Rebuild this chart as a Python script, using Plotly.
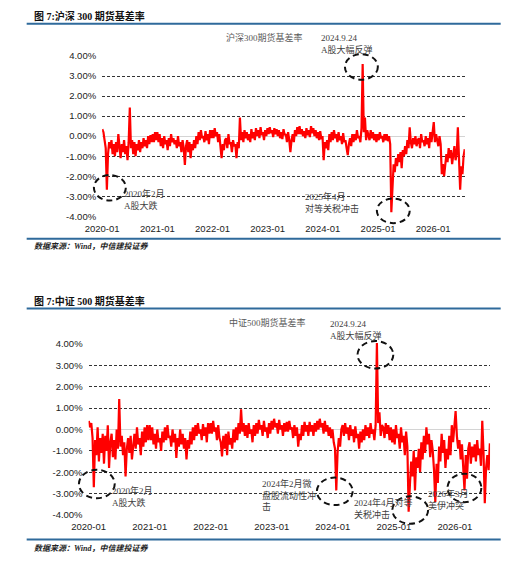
import pandas as pd
import plotly.graph_objects as go

# ---------------- data (basis rate, %) : 4 readings per month ----------------
hs300_2020 = [0.35, 0.2, -0.2, -0.6, -2.68, -0.9, -0.3, -0.6, -0.2, -0.9, -0.4, -1.0,
              -0.3, -0.8, 0.1, -0.6, -1.1, -0.4, -0.8, -0.2, -0.9, -0.5, -1.2, -0.3,
              1.43, -0.6, -0.2, -0.9, -0.3, -1.0, -0.4, -0.7, -0.2, -0.8, -0.3, -0.6,
              -0.1, -0.5, -0.2, -0.6, 0.0, -0.4, 0.05, -0.3, 0.1, -0.3, 0.2, -0.2]
hs300_2021 = [0.2, -0.3, 0.1, -0.5, -0.1, -0.6, 0.0, -0.4, -0.2, -0.7, -0.1, -0.5,
              0.1, -0.3, -0.1, -0.4, -0.2, -0.6, 0.0, -0.5, -0.3, -0.8, -0.2, -0.6,
              -1.44, -0.5, -0.2, -0.8, -0.3, -1.1, -0.4, -0.7, -0.2, -0.6, 0.0, -0.4,
              0.2, -0.2, 0.3, -0.1, 0.0, -0.3, 0.25, -0.2, 0.1, -0.4, 0.3, -0.1]
hs300_2022 = [0.3, -0.1, 0.4, 0.0, 0.2, -0.3, 0.1, -0.5, -1.1, -0.4, -0.7, -0.2,
              -0.1, -0.6, 0.1, -0.4, -0.3, -0.8, -0.2, -0.5, -0.4, -1.1, -0.3, -0.6,
              0.93, -0.2, 0.2, -0.3, 0.3, -0.1, 0.2, -0.2, 0.1, -0.3, 0.35, -0.1,
              0.2, -0.2, 0.4, 0.0, 0.3, -0.1, 0.45, 0.05, 0.2, -0.2, 0.3, 0.0]
hs300_2023 = [0.4, 0.1, 0.45, 0.15, 0.3, -0.05, 0.4, 0.1, 0.35, 0.0, 0.3, -0.1,
              0.2, -0.15, 0.35, 0.05, 0.1, -0.3, 0.2, -0.2, -0.8, -0.2, 0.1, -0.3,
              0.3, 0.0, 0.45, 0.1, 0.5, 0.1, 0.35, 0.0, 0.25, -0.1, 0.4, 0.05,
              0.3, -0.05, 0.5, 0.15, 0.4, 0.0, 0.3, -0.1, 0.2, -0.2, 0.25, -0.15]
hs300_2024 = [0.0, -1.2, -0.3, -0.6, -0.2, -0.7, 0.1, -0.3, 0.2, -0.2, 0.3, -0.1,
              0.1, -0.3, 0.2, -0.2, 0.0, -0.4, 0.15, -0.3, -0.2, -0.6, -0.95, -0.4,
              -0.1, -0.5, 0.1, -0.3, 0.1, -0.2, 0.3, -0.1, 0.0, -0.3, 0.4, 3.6,
              0.2, 0.93, -0.2, 0.3, 0.1, -0.2, 0.3, -0.1, 0.2, -0.2, 0.1, -0.3]
hs300_2025 = [0.1, -0.2, 0.2, -0.1, 0.0, -0.3, 0.1, -0.2, 0.1, -0.25, 0.0, -0.4,
              -3.8, -2.2, -1.4, -1.8, -1.1, -1.5, -0.9, -1.3, -0.8, -1.6, -0.7, -1.0,
              -0.5, -0.9, -0.2, -0.6, 0.44, -0.3, -0.6, -0.1, -0.4, 0.0, -0.5, -0.2,
              -0.1, -0.6, 0.1, -0.3, -0.2, -0.5, 0.0, -0.4, -0.1, -0.6, 0.2, -0.3]
hs300_2026 = [0.2, 0.7, -0.3, 0.1, -0.2, -0.5, 0.0, -0.4, -1.9, -1.4, -2.0, -1.3,
              -0.9, -1.3, -0.6, -1.1, -0.7, -1.4, -0.9, -0.5, -1.2, -0.9, 0.44, -1.6,
              -2.67, -1.5, -1.9, -1.0, -0.65]

csi500_2020 = [0.4, 0.1, 0.3, -0.4, -2.7, -0.5, -1.2, 0.1, -1.5, -0.4, -1.1, -0.2,
               -1.6, -0.3, -1.0, 0.2, -1.8, -0.6, -0.2, -1.3, -0.5, -1.4, 0.0, -0.9,
               1.42, -0.8, -0.3, -1.2, -0.6, -2.2, -0.9, -0.4, -1.1, -0.3, -1.4, -0.6,
               -0.2, -0.9, 0.1, -0.7, -0.4, -1.2, -0.1, -0.8, 0.1, -0.6, 0.2, -0.5]
csi500_2021 = [0.2, -0.5, 0.1, -0.7, -0.2, -0.9, 0.0, -0.6, -0.4, -1.0, -0.1, -0.6,
               0.1, -0.5, 0.2, -0.4, -0.3, -0.8, 0.0, -0.6, -0.2, -1.33, -0.4, -0.8,
               0.0, -0.7, -0.2, -0.9, -0.4, -1.4, -0.5, -0.9, -0.1, -0.7, 0.1, -0.5,
               0.2, -0.3, 0.3, -0.2, 0.0, -0.5, 0.25, -0.3, 0.1, -0.6, 0.3, -0.2]
csi500_2022 = [0.3, -0.2, 0.4, -0.1, 0.1, -0.5, 0.2, -0.4, -0.6, -1.26, -0.3, -0.9,
               -0.2, -1.2, -0.1, -0.7, -0.4, -0.9, 0.0, -0.6, 0.1, -0.5, 0.3, -0.2,
               0.94, -0.1, 0.3, -0.3, 0.2, -0.4, 0.3, -0.2, 0.0, -0.6, 0.2, -0.3,
               0.3, -0.2, 0.45, 0.0, 0.2, -0.3, 0.4, -0.1, 0.1, -0.4, 0.3, -0.2]
csi500_2023 = [0.4, 0.0, 0.5, 0.1, 0.3, -0.2, 0.45, 0.0, 0.2, -0.3, 0.3, -0.1,
               0.35, -0.1, 0.4, 0.0, 0.1, -0.4, 0.2, -0.3, 0.1, -0.8, -0.2, -0.5,
               0.2, -0.3, 0.35, -0.1, 0.2, -0.3, 0.35, -0.1, 0.2, -0.3, 0.3, -0.1,
               0.4, 0.0, 0.5, 0.1, 0.3, -0.2, 0.4, -0.1, 0.2, -0.3, 0.1, -0.4]
csi500_2024 = [0.0, -0.6, -0.9, -2.85, -1.1, -0.4, -0.8, 0.0, 0.2, -0.3, 0.3, -0.2,
               0.1, -0.5, 0.2, -0.3, 0.0, -0.6, 0.15, -0.4, -0.2, -0.9, -0.1, -0.6,
               0.0, -0.5, 0.2, -0.3, 0.1, -0.4, 0.3, -0.2, 0.0, -0.5, 0.2, 4.05,
               0.3, 0.8, -0.3, 0.2, 0.1, -0.4, 0.3, -0.2, 0.2, -0.5, 0.1, -0.6]
csi500_2025 = [0.0, -0.7, 0.2, -0.4, -0.2, -0.9, 0.1, -0.6, -0.3, -1.2, -0.1, -0.8,
               -3.85, -2.6, -1.5, -2.2, -1.0, -2.85, -1.3, -1.8, -0.9, -2.0, -0.6, -1.4,
               -0.3, -1.1, 0.1, -0.7, -0.2, -1.3, -0.5, -1.0, -1.9, -3.4, -1.6, -2.5,
               -0.8, -1.5, -0.2, -1.1, -0.5, -1.8, -0.9, -1.4, -0.3, -1.2, 0.2, -0.6]
csi500_2026 = [0.2, 0.86, -0.3, -0.9, -0.5, -1.4, -0.7, -1.8, -2.85, -1.2, -2.3, -0.9,
               -0.6, -1.6, -0.8, -1.3, -0.7, -1.5, -0.5, -1.2, -0.9, -1.7, 0.4, -1.1,
               -3.45, -1.8, -1.2, -1.9, -0.65]

hs300 = hs300_2020 + hs300_2021 + hs300_2022 + hs300_2023 + hs300_2024 + hs300_2025 + hs300_2026
csi500 = csi500_2020 + csi500_2021 + csi500_2022 + csi500_2023 + csi500_2024 + csi500_2025 + csi500_2026

start_date, end_date = "2020-01-02", "2026-07-29"
dates_hs = pd.date_range(start_date, end_date, periods=len(hs300))
dates_cs = pd.date_range(start_date, end_date, periods=len(csi500))

y_ticks = [-4, -3, -2, -1, 0, 1, 2, 3, 4]
y_tick_text = ["-4.00%", "-3.00%", "-2.00%", "-1.00%", "0.00%", "1.00%", "2.00%", "3.00%", "4.00%"]

# ---------------- figure ----------------
W, H = 521, 573
def px(x): return x / W
def py(y): return 1 - y / H

fig = go.Figure()
fig.add_trace(go.Scatter(x=dates_hs, y=hs300, mode="lines", line=dict(color="#FF0000", width=2.2),
                         xaxis="x", yaxis="y", showlegend=False))
fig.add_trace(go.Scatter(x=dates_cs, y=csi500, mode="lines", line=dict(color="#FF0000", width=2.2),
                         xaxis="x2", yaxis="y2", showlegend=False))

tickfont = dict(family="Liberation Sans, Arial, sans-serif", size=9.5, color="#222222")
xcommon = dict(type="date", range=["2020-01-01", "2026-07-30"], tick0="2020-01-01", dtick="M12",
               tickformat="%Y-%m", showgrid=False, zeroline=False, showline=False, ticks="",
               tickfont=tickfont, ticklabelstandoff=4, fixedrange=True)
ycommon = dict(range=[-4.04, 4.04], tickvals=y_ticks, ticktext=y_tick_text, showgrid=True,
               gridcolor="#333333", griddash="3px,2px", gridwidth=1, zeroline=True,
               zerolinecolor="#d4d4d4", zerolinewidth=1, showline=False, ticks="",
               tickfont=tickfont, ticklabelstandoff=5, fixedrange=True)

fig.update_layout(
    width=W, height=H, margin=dict(l=0, r=0, t=0, b=0),
    paper_bgcolor="white", plot_bgcolor="white",
    xaxis=dict(xcommon, domain=[px(88), px(463)], anchor="y"),
    yaxis=dict(ycommon, domain=[py(215.8), py(51.2)], anchor="x"),
    xaxis2=dict(xcommon, domain=[px(74), px(489)], anchor="y2"),
    yaxis2=dict(ycommon, domain=[py(519.9), py(344.1)], anchor="x2"),
)

cjk = "Liberation Serif, Noto Sans CJK SC, serif"
ann = []
def text(x, y, s, size=9, color="#404040", xanchor="left", bold=False, italic=False):
    if bold:
        s = "<b>" + s + "</b>"
    if italic:
        s = "<i>" + s + "</i>"
    ann.append(dict(x=px(x), y=py(y), xref="paper", yref="paper", text=s, showarrow=False,
                    xanchor=xanchor, yanchor="middle", align="left",
                    font=dict(family=cjk, size=size, color=color)))

# chart 1 texts
text(16, 11, "图 7:沪深 300 期货基差率", size=10, color="#111111", bold=True)
text(256, 33, "沪深300期货基差率", size=9, color="#595959", xanchor="center")
text(312, 40, "2024.9.24<br>A股大幅反弹")
text(109, 197.5, "2020年2月<br>A股大跌")
text(296, 200.5, "2025年4月<br>对等关税冲击")
text(16, 246, "数据来源：Wind，中信建投证券", size=8, color="#222222", bold=True, italic=True)
# chart 2 texts
text(16, 301, "图 7:中证 500 期货基差率", size=10, color="#111111", bold=True)
text(259, 323, "中证500期货基差率", size=9, color="#595959", xanchor="center")
text(321, 331, "2024.9.24<br>A股大幅反弹")
text(96, 500.5, "2020年2月<br>A股大跌")
text(251, 499, "2024年2月微<br>盘股流动性冲<br>击")
text(346, 512, "2024年4月对等<br>关税冲击")
text(423, 503.5, "2026年3月<br>美伊冲突")
text(16, 553, "数据来源：Wind，中信建投证券", size=8, color="#222222", bold=True, italic=True)
fig.update_layout(annotations=ann)

shapes = []
blue = "#2F6A9B"
for yy in (19, 238, 309, 544):
    shapes.append(dict(type="line", xref="paper", yref="paper", x0=px(10), x1=px(500),
                       y0=py(yy), y1=py(yy), line=dict(color=blue, width=2)))
def ellipse(cx, cy, rx, ry):
    shapes.append(dict(type="circle", xref="paper", yref="paper",
                       x0=px(cx - rx), x1=px(cx + rx), y0=py(cy + ry), y1=py(cy - ry),
                       line=dict(color="#111111", width=2, dash="6px,4px")))
ellipse(356, 63, 17, 13)
ellipse(96, 186, 16.5, 13)
ellipse(389, 209.5, 17, 12.5)
ellipse(370.5, 356, 18.5, 14)
ellipse(82.5, 487.5, 18.5, 14.5)
ellipse(328.5, 495, 18.5, 14)
ellipse(406.5, 514, 18.5, 14)
ellipse(462.5, 491.5, 17.5, 14.5)
fig.update_layout(shapes=shapes)

fig.write_html("out.html", config={"displayModeBar": False},
               post_script="document.body.style.margin='0';document.body.style.overflow='hidden';")
